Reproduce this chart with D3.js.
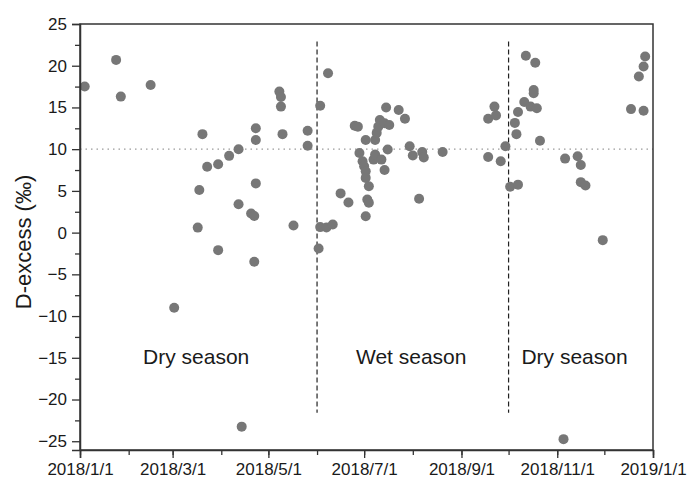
<!DOCTYPE html>
<html>
<head>
<meta charset="utf-8">
<script src="https://cdn.jsdelivr.net/npm/d3@7"></script>
<style>
  body { margin: 0; background: #fff; }
  text { font-family: "Liberation Sans", Arial, sans-serif; fill: #1a1a1a; }
  .axis path, .axis line { stroke: #333; }
</style>
</head>
<body>
<div id="chart"></div>
<script>
// sample dates and D-excess values
var dates = [
  "2018-01-04","2018-01-24","2018-01-27","2018-02-15","2018-03-02","2018-03-17","2018-03-18","2018-03-20",
  "2018-03-23","2018-03-30","2018-03-30","2018-04-06","2018-04-12","2018-04-12","2018-04-14","2018-04-20",
  "2018-04-22","2018-04-22","2018-04-23","2018-04-23","2018-04-23","2018-05-08","2018-05-09","2018-05-09",
  "2018-05-10","2018-05-17","2018-05-26","2018-05-26","2018-06-02","2018-06-03","2018-06-08","2018-06-03",
  "2018-06-07","2018-06-11","2018-06-16","2018-06-21","2018-06-25","2018-06-27","2018-06-28","2018-06-30",
  "2018-07-01","2018-07-02","2018-07-02","2018-07-02","2018-07-04","2018-07-03","2018-07-04","2018-07-02",
  "2018-07-07","2018-07-08","2018-07-08","2018-07-09","2018-07-10","2018-07-11","2018-07-12","2018-07-14",
  "2018-07-14","2018-07-15","2018-07-16","2018-07-17","2018-07-23","2018-07-27","2018-07-30","2018-08-01",
  "2018-08-05","2018-08-07","2018-08-08","2018-08-20","2018-09-18","2018-09-18","2018-09-22","2018-09-23",
  "2018-09-26","2018-09-29","2018-10-02","2018-10-05","2018-10-06","2018-10-07","2018-10-07","2018-10-11",
  "2018-10-12","2018-10-15","2018-10-17","2018-10-17","2018-10-18","2018-10-19","2018-10-21","2018-11-05",
  "2018-11-06","2018-11-14","2018-11-16","2018-11-16","2018-11-19","2018-11-30","2018-12-18","2018-12-23",
  "2018-12-26","2018-12-26","2018-12-27"
];
var dexcess = [
  17.5, 20.7, 16.3, 17.7, -9.0, 0.6, 5.1, 11.8,
  7.9, 8.2, -2.1, 9.2, 10.0, 3.4, -23.25, 2.3,
  2.0, -3.5, 12.5, 11.1, 5.9, 16.9, 16.25, 15.1,
  11.8, 0.86, 12.2, 10.4, -1.9, 15.2, 19.1, 0.66,
  0.62, 0.98, 4.7, 3.6, 12.8, 12.7, 9.55, 8.55,
  7.95, 7.35, 11.1, 6.56, 5.56, 3.97, 3.57, 1.97,
  8.75, 9.35, 11.1, 11.95, 12.7, 13.5, 8.75, 13.1,
  7.5, 15.0, 9.95, 12.9, 14.7, 13.65, 10.35, 9.25,
  4.05, 9.65, 9.0, 9.67, 9.07, 13.65, 15.1, 14.05,
  8.55, 10.35, 5.5, 13.15, 11.8, 14.45, 5.75, 15.65,
  21.2, 15.1, 17.1, 16.7, 20.35, 14.9, 11.0, -24.75,
  8.87, 9.15, 8.1, 6.05, 5.65, -0.9, 14.8, 18.7,
  14.6, 19.9, 21.1
];

var seasonBreaks = ["2018-06-01", "2018-10-01"];
var seasonNames = ["Dry season", "Wet season", "Dry season"];
var seasonLabelDates = ["2018-03-16", "2018-07-31", "2018-11-12"];
var yTicks = [-25, -20, -15, -10, -5, 0, 5, 10, 15, 20, 25];
var refLevel = 10;

var parse = d3.timeParse("%Y-%m-%d");

var margin = {top: 24, right: 34, bottom: 29, left: 80},
    width = 687 - margin.left - margin.right,
    height = 479 - margin.top - margin.bottom;

var svg = d3.select("#chart").append("svg")
    .attr("width", 687)
    .attr("height", 479)
  .append("g")
    .attr("transform", "translate(" + margin.left + "," + margin.top + ")");

var xScale = d3.scaleTime()
    .domain([parse("2018-01-01"), parse("2019-01-01")])
    .range([0, width]);

var yScale = d3.scaleLinear()
    .domain([-26.05, 25])
    .range([height, 0]);

// reference line at 10
svg.append("line")
    .attr("x1", 0).attr("x2", width)
    .attr("y1", yScale(refLevel)).attr("y2", yScale(refLevel))
    .style("stroke", "#9a9a9a")
    .style("stroke-width", 1.3)
    .style("stroke-dasharray", "1.5,4");

// season boundaries
svg.selectAll(".season_line")
    .data(seasonBreaks)
  .enter().append("line")
    .attr("class", "season_line")
    .attr("x1", function(d) { return xScale(parse(d)); })
    .attr("x2", function(d) { return xScale(parse(d)); })
    .attr("y1", yScale(22.9))
    .attr("y2", yScale(-21.6))
    .style("stroke", "#222")
    .style("stroke-width", 1.2)
    .style("stroke-dasharray", "5,3");

svg.selectAll(".season_label")
    .data(seasonNames)
  .enter().append("text")
    .attr("class", "season_label")
    .attr("x", function(d, i) { return xScale(parse(seasonLabelDates[i])); })
    .attr("y", yScale(-15.7))
    .attr("text-anchor", "middle")
    .style("font-size", "21px")
    .text(function(d) { return d; });

// points
svg.selectAll(".dot")
    .data(dates)
  .enter().append("circle")
    .attr("class", "dot")
    .attr("cx", function(d) { return xScale(parse(d)); })
    .attr("cy", function(d, i) { return yScale(dexcess[i]); })
    .attr("r", 5)
    .style("fill", "#777");

// frame
svg.append("rect")
    .attr("width", width)
    .attr("height", height)
    .style("fill", "none")
    .style("stroke", "#333")
    .style("stroke-width", 1.5);

// minor ticks
svg.append("g")
    .attr("class", "x axis")
    .attr("transform", "translate(0," + height + ")")
    .call(d3.axisBottom(xScale).ticks(d3.timeMonth.every(1)).tickSize(5).tickFormat(""))
    .call(function(g) { g.select(".domain").remove(); });

svg.append("g")
    .attr("class", "y axis")
    .call(d3.axisLeft(yScale).tickValues(yTicks.map(function(d) { return d + 2.5; }).filter(function(d) { return d < 25; })).tickSize(5).tickFormat(""))
    .call(function(g) { g.select(".domain").remove(); });

// major ticks
svg.append("g")
    .attr("class", "x axis")
    .attr("transform", "translate(0," + height + ")")
    .call(d3.axisBottom(xScale).ticks(d3.timeMonth.every(2)).tickSize(8).tickPadding(5).tickFormat(d3.timeFormat("%Y/%-m/%-d")))
    .call(function(g) { g.select(".domain").style("stroke-width", 1.5); })
    .selectAll("text")
    .style("font-size", "17px");

svg.append("g")
    .attr("class", "y axis")
    .call(d3.axisLeft(yScale).tickValues(yTicks).tickSize(8).tickPadding(5).tickFormat(d3.format("d")))
    .call(function(g) { g.select(".domain").style("stroke-width", 1.5); })
    .selectAll("text")
    .style("font-size", "17px");

svg.selectAll(".axis line").style("stroke-width", 1.3);

svg.append("text")
    .attr("transform", "translate(" + (-49) + "," + (height / 2 + 5) + ") rotate(-90)")
    .attr("text-anchor", "middle")
    .style("font-size", "22px")
    .text("D-excess (‰)");
</script>
</body>
</html>
